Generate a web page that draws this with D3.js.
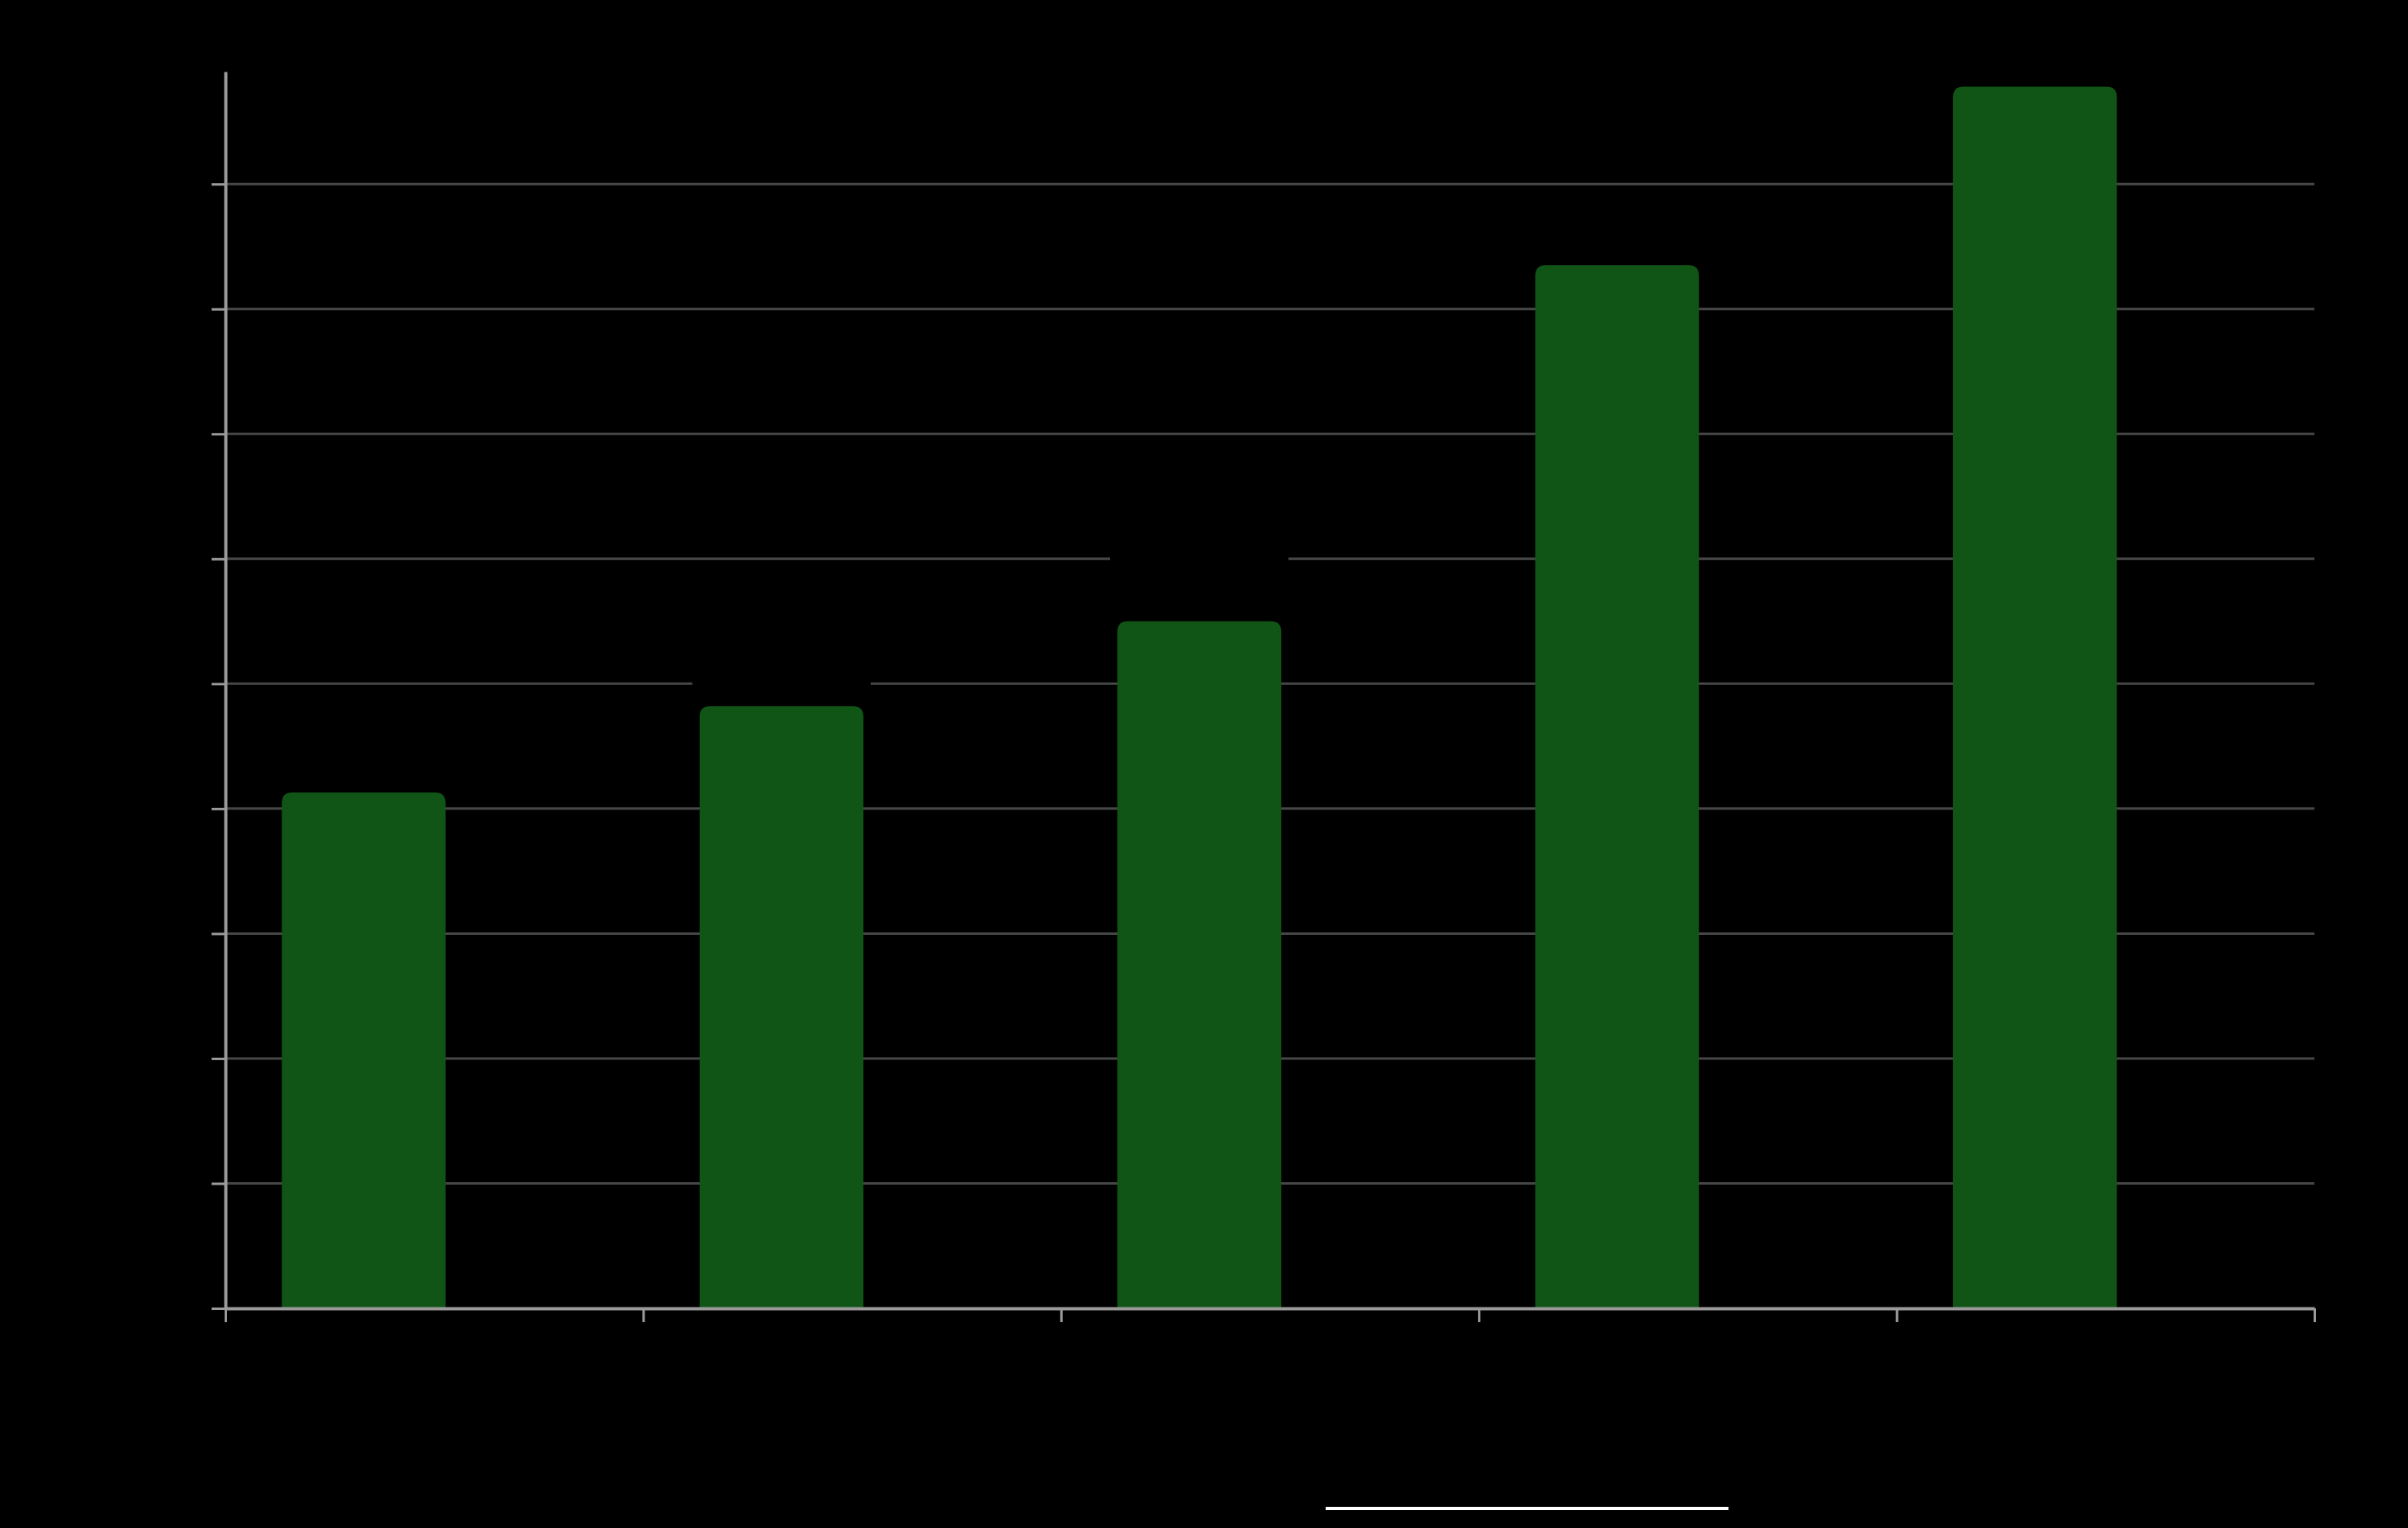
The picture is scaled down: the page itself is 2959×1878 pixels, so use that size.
<!DOCTYPE html>
<html>
<head>
<meta charset="utf-8">
<script src="https://cdn.jsdelivr.net/npm/d3@7"></script>
<style>
    html, body { margin: 0; padding: 0; background: #000; }
    svg { display: block; font-family: "Liberation Sans", "DejaVu Sans", sans-serif; }
</style>
</head>
<body>
<div id="chart"></div>
<script>
// chart data
const categories = ['2019', '2020', '2021', '2022', '2023'];
const values = [41.3, 48.2, 55.0, 83.5, 97.8];
const xTickLabels = ['2019', '2020', '2021', '2022', '2023', '2024'];
const yTicks = [0, 10, 20, 30, 40, 50, 60, 70, 80, 90];

const totalWidth = 2959;
const totalHeight = 1878;
const margin = {top: 88, right: 115, bottom: 270, left: 277};
const width = totalWidth - margin.left - margin.right;
const height = totalHeight - margin.top - margin.bottom;

const xScale = d3.scaleLinear()
    .domain([0, categories.length])
    .range([0, width]);
const yScale = d3.scaleLinear()
    .domain([0, 99])
    .range([height, 0]);

// bar sits inside each yearly slot
const barStart = 0.135;
const barSize = 0.392;
const radius = 13;

const barPath = (d, i) => {
    const x0 = xScale(i + barStart);
    const x1 = xScale(i + barStart + barSize);
    const y0 = yScale(d);
    const y1 = yScale(0);
    return `M${x0},${y1} L${x0},${y0 + radius} Q${x0},${y0} ${x0 + radius},${y0}` +
        ` L${x1 - radius},${y0} Q${x1},${y0} ${x1},${y0 + radius} L${x1},${y1} Z`;
};

const svg = d3.select('#chart')
    .append('svg')
    .attr('width', totalWidth)
    .attr('height', totalHeight);

svg.append('rect')
    .attr('width', totalWidth)
    .attr('height', totalHeight)
    .attr('fill', '#000');

const chart = svg.append('g')
    .attr('transform', `translate(${margin.left},${margin.top})`);

// gridlines
chart.append('g')
    .selectAll('line')
    .data(yTicks.slice(1))
    .enter()
        .append('line')
        .attr('x1', 0)
        .attr('x2', width)
        .attr('y1', d => yScale(d))
        .attr('y2', d => yScale(d))
        .attr('stroke', '#474747')
        .attr('stroke-width', 3);

// label backgrounds
chart.append('g')
    .selectAll('rect')
    .data(values)
    .enter()
        .append('rect')
        .attr('x', (d, i) => xScale(i + barStart) - 9)
        .attr('y', d => yScale(d) - 92)
        .attr('width', (d, i) => xScale(i + barStart + barSize) - xScale(i + barStart) + 18)
        .attr('height', 86)
        .attr('fill', '#000');

chart.append('g')
    .selectAll('path')
    .data(values)
    .enter()
        .append('path')
        .attr('d', barPath)
        .attr('fill', '#105516');

chart.append('g')
    .selectAll('text')
    .data(values)
    .enter()
        .append('text')
        .attr('text-anchor', 'middle')
        .attr('x', (d, i) => xScale(i + barStart + barSize / 2))
        .attr('y', d => yScale(d) - 30)
        .attr('fill', '#000')
        .style('font-size', '48px')
        .text(d => d.toFixed(1));

// axes
const yAxis = chart.append('g')
    .call(d3.axisLeft(yScale)
        .tickValues(yTicks)
        .tickSize(17)
        .tickSizeOuter(0)
        .tickPadding(12));
const xAxis = chart.append('g')
    .attr('transform', `translate(0, ${height})`)
    .call(d3.axisBottom(xScale)
        .ticks(categories.length)
        .tickSize(17)
        .tickSizeOuter(0)
        .tickPadding(14)
        .tickFormat((d, i) => xTickLabels[i]));

[yAxis, xAxis].forEach(axis => {
    axis.select('.domain').attr('stroke', '#9a9a9a').attr('stroke-width', 4);
    axis.selectAll('.tick line').attr('stroke', '#9a9a9a').attr('stroke-width', 3);
    axis.selectAll('.tick text').attr('fill', '#000').style('font-size', '44px');
});

// titles, black like the rest of the text
chart.append('text')
    .attr('transform', `translate(-170, ${height / 2}) rotate(-90)`)
    .attr('text-anchor', 'middle')
    .attr('fill', '#000')
    .style('font-size', '52px')
    .text('Value');

chart.append('text')
    .attr('x', width / 2)
    .attr('y', height + 130)
    .attr('text-anchor', 'middle')
    .attr('fill', '#000')
    .style('font-size', '52px')
    .text('Year');

// source line with white underline
svg.append('text')
    .attr('x', 1876)
    .attr('y', 1840)
    .attr('text-anchor', 'middle')
    .attr('fill', '#000')
    .style('font-size', '40px')
    .text('Source: annual report');

svg.append('rect')
    .attr('x', 1629)
    .attr('y', 1852)
    .attr('width', 495)
    .attr('height', 4)
    .attr('fill', '#fff');
</script>
</body>
</html>
